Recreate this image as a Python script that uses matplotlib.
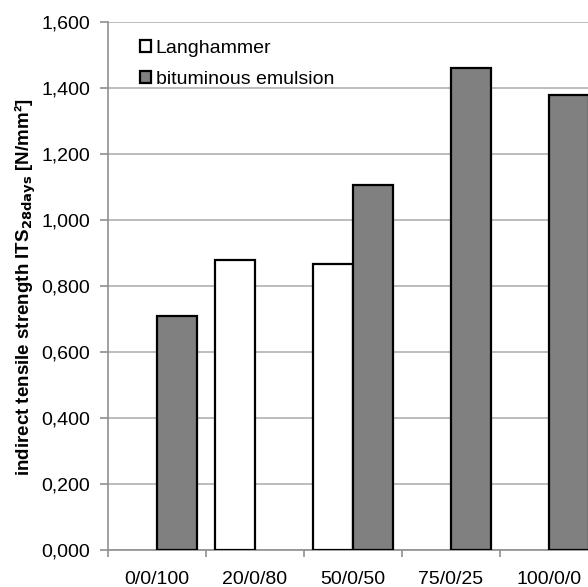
import numpy as np
import matplotlib
matplotlib.use("Agg")
import matplotlib.pyplot as plt

plt.rcParams["font.family"] = ["Liberation Sans", "DejaVu Sans"]

# mixes and ITS values in N/mm² (nan = not tested)
categories = ["0/0/100", "20/0/80", "50/0/50", "75/0/25", "100/0/0"]
langhammer = [np.nan, 0.878, 0.868, np.nan, np.nan]
emulsion = [0.710, np.nan, 1.107, 1.462, 1.378]
yticks = [0.0, 0.2, 0.4, 0.6, 0.8, 1.0, 1.2, 1.4, 1.6]

fig = plt.figure(figsize=(5.88, 5.87), dpi=100)
# axes runs a bit past the right edge, like the cropped original
ax = fig.add_axes([108 / 588, 37 / 587, 490 / 588, 528 / 587])

x = np.arange(len(categories))
w = 0.41
ax.bar(x - w / 2, langhammer, w, color="white", edgecolor="black", linewidth=1.6,
       label="Langhammer", zorder=3)
ax.bar(x + w / 2, emulsion, w, color="#808080", edgecolor="black", linewidth=1.6,
       label="bituminous emulsion", zorder=3)

ax.set_xlim(-0.5, len(categories) - 0.5)
ax.set_ylim(0, 1.6)
ax.set_yticks(yticks)
ax.set_yticklabels([("%.3f" % v).replace(".", ",") for v in yticks])
ax.yaxis.grid(True, color="#b0b0b0", linewidth=1.2, zorder=0)
ax.set_axisbelow(True)

ax.set_xticks(x)
ax.set_xticklabels(categories)
ax.set_xticks(np.arange(len(categories) + 1) - 0.5, minor=True)
ax.tick_params(axis="x", which="major", length=0, pad=15, labelsize=14)
ax.tick_params(axis="x", which="minor", length=5, color="#909090", width=1.2)
ax.tick_params(axis="y", length=6, color="#909090", width=1.2, labelsize=14, pad=7)

for s in ["top", "right"]:
    ax.spines[s].set_visible(False)
for s in ["left", "bottom"]:
    ax.spines[s].set_color("#909090")
    ax.spines[s].set_linewidth(1.2)

fig.text(25 / 588, 1 - 287 / 587,
         "indirect tensile strength ITS$_{\\mathbf{28days}}$ [N/mm²]",
         rotation=90, ha="center", va="center", fontsize=13.5, fontweight="bold")

ax.legend(loc="upper left", bbox_to_anchor=(32 / 490, 1 - 18 / 528), frameon=False,
          fontsize=14, handlelength=0.55, handleheight=0.55, handletextpad=0.25,
          labelspacing=0.7, borderaxespad=0, borderpad=0)

fig.savefig("out.png", dpi=100)
